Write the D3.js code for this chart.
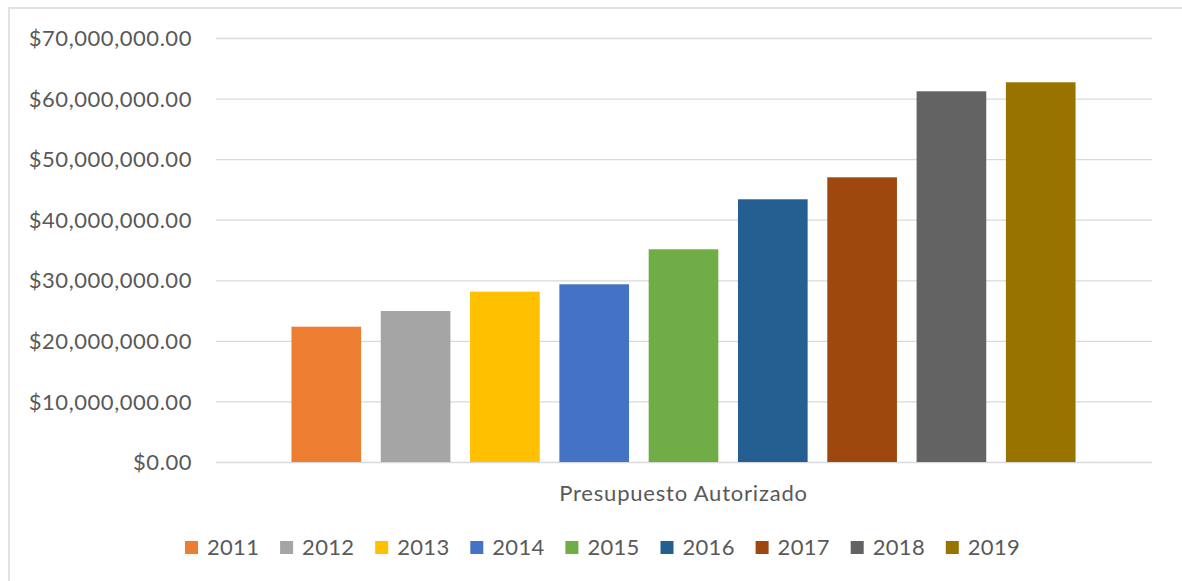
<!DOCTYPE html>
<html>
<head>
<meta charset="utf-8">
<script src="https://cdn.jsdelivr.net/npm/d3@7"></script>
<style>
  html, body { margin: 0; padding: 0; background: #fff; }
  svg text { font-family: Lato, "Open Sans", sans-serif; fill: #595959; }
</style>
</head>
<body>
<svg id="chart" width="1182" height="581"></svg>
<script>
// data
const categories = ["Presupuesto Autorizado"];
const years = ["2011", "2012", "2013", "2014", "2015", "2016", "2017", "2018", "2019"];
const budget = [22340000, 24930000, 28120000, 29340000, 35120000, 43370000, 47000000, 61200000, 62690000];
const yTicks = [0, 10000000, 20000000, 30000000, 40000000, 50000000, 60000000, 70000000];
const colors = ["#ED7D31", "#A5A5A5", "#FFC000", "#4472C4", "#70AD47", "#255E91", "#9E480E", "#636363", "#997300"];

const svg = d3.select("#chart");
const margin = { top: 38, left: 216 };
const plotRight = 1152;
const plotBottom = 462;

// chart frame (runs off the right and bottom of the picture)
svg.append("rect")
    .attr("x", 9)
    .attr("y", 8)
    .attr("width", 1300)
    .attr("height", 700)
    .attr("fill", "none")
    .attr("stroke", "#D9D9D9")
    .attr("stroke-width", 1.5);

// Scales
const y = d3.scaleLinear()
    .domain([0, 70000000])
    .range([plotBottom, margin.top]);

const x0 = d3.scaleBand()
    .domain(categories)
    .range([margin.left - 1, plotRight])
    .paddingInner(0)
    .paddingOuter(0.0975);

const x1 = d3.scaleBand()
    .domain(years)
    .range([0, x0.bandwidth()])
    .paddingInner(0.22)
    .paddingOuter(0);

const color = d3.scaleOrdinal().domain(years).range(colors);

const money = d3.format("$,.2f");

// gridlines + y labels
const yAxis = d3.axisLeft(y)
    .tickValues(yTicks)
    .tickSize(-(plotRight - margin.left))
    .tickPadding(24)
    .tickFormat(money);

const gy = svg.append("g")
    .attr("transform", `translate(${margin.left},0)`)
    .call(yAxis);
gy.select(".domain").remove();
gy.selectAll(".tick line")
    .attr("stroke", "#D9D9D9")
    .attr("stroke-width", 1.3);
gy.selectAll(".tick text")
    .attr("fill", "#595959")
    .style("font-size", "22px")
    .style("letter-spacing", "0.55px")
    .attr("dy", "0.35em");

// bars
const rows = years.map((yr, i) => ({ year: yr, value: budget[i], category: categories[0] }));

svg.append("g")
    .selectAll("rect")
    .data(rows)
    .join("rect")
    .attr("x", d => x0(d.category) + x1(d.year))
    .attr("y", d => y(d.value))
    .attr("width", x1.bandwidth())
    .attr("height", d => y(0) - y(d.value))
    .attr("fill", d => color(d.year));

// category label
svg.append("g")
    .selectAll("text")
    .data(categories)
    .join("text")
    .attr("x", d => x0(d) + x0.bandwidth() / 2)
    .attr("y", 501)
    .attr("text-anchor", "middle")
    .style("font-size", "22px")
    .style("letter-spacing", "0.8px")
    .text(d => d);

// legend
const legendStep = 95.1;
const legendX = 185;
const legend = svg.append("g")
    .selectAll("g")
    .data(years)
    .join("g")
    .attr("transform", (d, i) => `translate(${legendX + i * legendStep},541)`);

legend.append("rect")
    .attr("width", 13)
    .attr("height", 13)
    .attr("fill", d => color(d));

legend.append("text")
    .attr("x", 22)
    .attr("y", 13.5)
    .style("font-size", "22px")
    .style("letter-spacing", "0.3px")
    .text(d => d);
</script>
</body>
</html>
